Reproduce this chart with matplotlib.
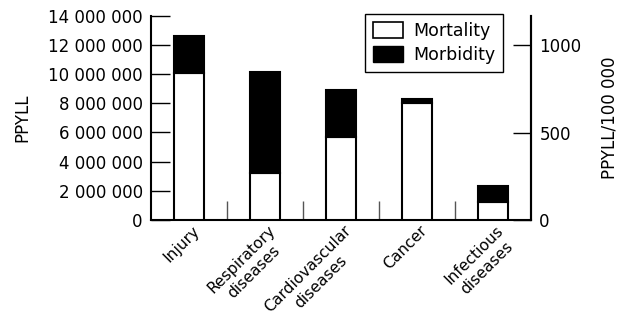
import numpy as np
import matplotlib.pyplot as plt
from matplotlib.patches import Patch
from matplotlib.ticker import FuncFormatter
from matplotlib.transforms import offset_copy
from matplotlib.textpath import TextToPath
from matplotlib.font_manager import FontProperties

# Data (PPYLL)
categories = ["Injury", "Respiratory\ndiseases", "Cardiovascular\ndiseases", "Cancer", "Infectious\ndiseases"]
mortality = [10100000, 3200000, 5700000, 8000000, 1250000]
totals = [12600000, 10150000, 8900000, 8300000, 2330000]
morbidity = [t - m for t, m in zip(totals, mortality)]

left_ticks = [0, 2000000, 4000000, 6000000, 8000000, 10000000, 12000000, 14000000]
right_ticks = [0, 500, 1000]
per_1000 = 11970000  # left-axis value that lines up with 1000 on the right axis

plt.rcParams['font.family'] = 'DejaVu Sans'
plt.rcParams['font.size'] = 12

fig = plt.figure(figsize=(6.21, 3.16), dpi=100)
ax = fig.add_axes([0.2432, 0.3038, 0.6119, 0.6466])

x = range(len(categories))
ax.bar(x, mortality, width=0.4, color='white', edgecolor='black', linewidth=1.5, zorder=3)
ax.bar(x, morbidity, width=0.4, bottom=mortality, color='black', edgecolor='black', linewidth=1.5, zorder=3)

ax.set_xlim(-0.5, len(categories) - 0.5)
ax.set_ylim(0, 14000000)
ax.set_yticks(left_ticks)
ax.yaxis.set_major_formatter(FuncFormatter(lambda v, p: f"{int(v):,}".replace(",", " ")))
ax.tick_params(axis='y', direction='in', length=14, width=1, pad=6)
ax.set_ylabel("PPYLL", labelpad=12)

# category labels: each line is its own rotated text, second line centred under the first
ax.set_xticks(list(x))
ax.set_xticklabels([])
ax.tick_params(axis='x', length=0)
ax.set_xticks([i + 0.5 for i in range(len(categories) - 1)], minor=True)
ax.tick_params(axis='x', which='minor', direction='in', length=14, width=1, color='#555555')

lab_size = 11.2
prop = FontProperties(family='DejaVu Sans', size=lab_size)
c = s = np.sqrt(0.5)
line_h = lab_size * 1.15
trans = ax.get_xaxis_transform()
for i, lab in enumerate(categories):
    lines = lab.split("\n")
    w0 = TextToPath().get_text_width_height_descent(lines[0], prop, ismath=False)[0]
    ax.text(i, 0, lines[0], fontproperties=prop, rotation=45, rotation_mode='anchor',
            ha='right', va='top', transform=offset_copy(trans, fig, x=2, y=-2, units='points'))
    for k, ln in enumerate(lines[1:], start=1):
        dx = -w0 / 2 * c + k * line_h * s + 2
        dy = -w0 / 2 * s - k * line_h * c - 2
        ax.text(i, 0, ln, fontproperties=prop, rotation=45, rotation_mode='anchor',
                ha='center', va='top', transform=offset_copy(trans, fig, x=dx, y=dy, units='points'))

for sp in ['left', 'bottom', 'right']:
    ax.spines[sp].set_linewidth(1.5)
ax.spines['top'].set_visible(False)

ax2 = ax.twinx()
ax2.set_ylim(0, 14000000 / per_1000 * 1000)
ax2.set_yticks(right_ticks)
ax2.tick_params(axis='y', direction='in', length=13, width=1, pad=6)
ax2.set_ylabel("PPYLL/100 000", labelpad=14)
for sp in ['top', 'left', 'bottom']:
    ax2.spines[sp].set_visible(False)
ax2.spines['right'].set_linewidth(1.5)

handles = [Patch(facecolor='white', edgecolor='black', linewidth=1.2, label='Mortality'),
           Patch(facecolor='black', edgecolor='black', label='Morbidity')]
leg = ax2.legend(handles=handles, loc='upper right', bbox_to_anchor=(0.926, 1.008),
                 borderaxespad=0, fancybox=False, edgecolor='black', framealpha=1,
                 fontsize=12.5, handlelength=1.75, handleheight=1.0, handletextpad=0.55,
                 borderpad=0.45, labelspacing=0.35)
leg.get_frame().set_linewidth(1.0)

fig.savefig("out.png", dpi=100)
